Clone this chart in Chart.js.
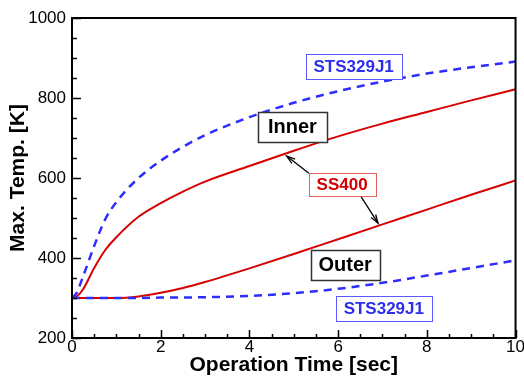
<!DOCTYPE html>
<html><head><meta charset="utf-8">
<script src="https://cdn.jsdelivr.net/npm/chart.js@4/dist/chart.umd.min.js"></script>
<style>html,body{margin:0;padding:0;background:#fff}</style>
</head><body>
<canvas id="c" width="524" height="378"></canvas>
<script>
// ---- data ----
const times          = [0, 0.1, 0.25, 0.5, 0.75, 1, 1.5, 2, 2.5, 3, 4, 5, 6, 7, 8, 9, 10];
const innerSS400     = [300, 303, 322, 375, 420, 452, 503, 537, 566, 591, 630, 668, 704, 736, 765, 794, 822];
const innerSTS329J1  = [300, 312, 354, 430, 497, 540, 600, 643, 678, 707, 752, 788, 817, 841, 861, 877, 891];
const outerSS400     = [300, 300, 300, 300, 300, 300, 304, 313, 325, 340, 374, 410, 447, 484, 521, 558, 594];
const outerSTS329J1  = [300, 300, 300, 300, 300, 300, 300, 301, 301, 302, 305, 312, 323, 338, 356, 375, 394];
const xTickLabels = [0, 2, 4, 6, 8, 10];
const yTickLabels = [200, 400, 600, 800, 1000];
const xTitle = 'Operation Time [sec]';
const yTitle = 'Max. Temp. [K]';
// annotation labels (centre in data coordinates)
const noteTexts = ['STS329J1', 'Inner', 'SS400', 'Outer', 'STS329J1'];
const noteT     = [6.35, 4.97, 6.09, 6.16, 7.03];
const noteV     = [880, 728, 585, 383, 275];
const noteKind  = ['blue', 'black', 'red', 'black', 'blue'];
// arrows from SS400 label to curves (data coordinates)
const arrowFromT = [5.34, 6.52];
const arrowFromV = [612, 553];
const arrowToT   = [4.84, 6.90];
const arrowToV   = [655, 487];

const RED = 'rgb(215,0,0)';
const BLUE = 'rgb(45,45,255)';
const FONT = "'Liberation Sans', Arial, Helvetica, sans-serif";
Chart.defaults.font.family = FONT;
Chart.defaults.color = '#000';

const pts = arr => times.map((t, i) => ({x: t, y: arr[i]}));

const styles = {
  blue:  {text: 'rgb(45,45,240)', border: 'rgb(90,90,255)', lw: 1, size: 17, box: [96, 25]},
  red:   {text: 'rgb(210,0,0)',   border: 'rgb(230,90,90)', lw: 1, size: 17, box: [67, 23]},
  black: {text: '#000',           border: '#333',           lw: 1.5, size: 20, box: [69, 30]}
};

const decor = {
  id: 'decor',
  afterDatasetsDraw(chart) {
    const {ctx, chartArea: a, scales: {x, y}} = chart;
    ctx.save();
    ctx.strokeStyle = '#000';
    // frame
    ctx.lineWidth = 2;
    ctx.strokeRect(a.left, a.top, a.right - a.left, a.bottom - a.top);
    // inward ticks
    ctx.lineWidth = 1.5;
    const xMinor = 0.5, yMinor = 50;
    for (let t = x.min; t <= x.max + 1e-9; t += xMinor) {
      const px = Math.round(x.getPixelForValue(t)) + 0.5;
      const major = xTickLabels.includes(Math.round(t * 100) / 100);
      ctx.beginPath(); ctx.moveTo(px, a.bottom); ctx.lineTo(px, a.bottom - (major ? 8 : 4)); ctx.stroke();
    }
    for (let v = y.min; v <= y.max + 1e-9; v += yMinor) {
      const py = Math.round(y.getPixelForValue(v)) + 0.5;
      const major = yTickLabels.includes(v);
      ctx.beginPath(); ctx.moveTo(a.left, py); ctx.lineTo(a.left + (major ? 9 : 5), py); ctx.stroke();
    }
    // arrows
    ctx.lineWidth = 1.3;
    ctx.strokeStyle = '#000';
    for (let i = 0; i < arrowFromT.length; i++) {
      const x0 = x.getPixelForValue(arrowFromT[i]), y0 = y.getPixelForValue(arrowFromV[i]);
      const x1 = x.getPixelForValue(arrowToT[i]), y1 = y.getPixelForValue(arrowToV[i]);
      const ang = Math.atan2(y1 - y0, x1 - x0);
      ctx.beginPath(); ctx.moveTo(x0, y0); ctx.lineTo(x1, y1); ctx.stroke();
      const hl = 9, ha = 0.3;
      ctx.beginPath();
      ctx.moveTo(x1 - hl * Math.cos(ang - ha), y1 - hl * Math.sin(ang - ha));
      ctx.lineTo(x1, y1);
      ctx.lineTo(x1 - hl * Math.cos(ang + ha), y1 - hl * Math.sin(ang + ha));
      ctx.stroke();
    }
    // labels
    ctx.textAlign = 'center';
    ctx.textBaseline = 'middle';
    for (let i = 0; i < noteTexts.length; i++) {
      const s = styles[noteKind[i]];
      const cx = x.getPixelForValue(noteT[i]), cy = y.getPixelForValue(noteV[i]);
      const [w, h] = s.box;
      ctx.fillStyle = '#fff';
      ctx.fillRect(Math.round(cx - w / 2), Math.round(cy - h / 2), w, h);
      ctx.lineWidth = s.lw;
      ctx.strokeStyle = s.border;
      ctx.strokeRect(Math.round(cx - w / 2) + 0.5, Math.round(cy - h / 2) + 0.5, w, h);
      ctx.fillStyle = s.text;
      ctx.font = `bold ${s.size}px ${FONT}`;
      ctx.fillText(noteTexts[i], cx, cy + 1);
    }
    ctx.restore();
  }
};

new Chart(document.getElementById('c'), {
  type: 'line',
  data: {
    datasets: [
      {label: 'Inner STS329J1', data: pts(innerSTS329J1), borderColor: BLUE, borderWidth: 2.5, borderDash: [8, 6]},
      {label: 'Outer STS329J1', data: pts(outerSTS329J1), borderColor: BLUE, borderWidth: 2.5, borderDash: [8, 6]},
      {label: 'Inner SS400', data: pts(innerSS400), borderColor: RED, borderWidth: 2},
      {label: 'Outer SS400', data: pts(outerSS400), borderColor: RED, borderWidth: 2}
    ]
  },
  options: {
    responsive: false,
    animation: false,
    devicePixelRatio: 1,
    layout: {padding: {top: 18, right: 8, left: 0, bottom: 0}},
    elements: {point: {radius: 0}, line: {cubicInterpolationMode: 'monotone', fill: false}},
    plugins: {legend: {display: false}, tooltip: {enabled: false}},
    scales: {
      x: {
        type: 'linear', min: 0, max: 10,
        afterBuildTicks: s => { s.ticks = xTickLabels.map(v => ({value: v})); },
        ticks: {font: {size: 17}, color: '#000', padding: -1, maxRotation: 0, callback: v => String(v)},
        grid: {display: false, drawTicks: false},
        border: {display: true, color: '#000', width: 2},
        title: {display: true, text: xTitle, font: {size: 21, weight: 'bold'}, color: '#000', padding: 0},
        afterFit: s => { s.height = 40; }
      },
      y: {
        type: 'linear', min: 200, max: 1000,
        afterBuildTicks: s => { s.ticks = yTickLabels.map(v => ({value: v})); },
        ticks: {font: {size: 17}, color: '#000', padding: 6, callback: v => String(v)},
        grid: {display: false, drawTicks: false},
        border: {display: true, color: '#000', width: 2},
        title: {display: true, text: yTitle, font: {size: 21, weight: 'bold'}, color: '#000', padding: {top: 6, bottom: 0}},
        afterFit: s => { s.width = 72; }
      }
    }
  },
  plugins: [decor]
});
</script>
</body></html>
